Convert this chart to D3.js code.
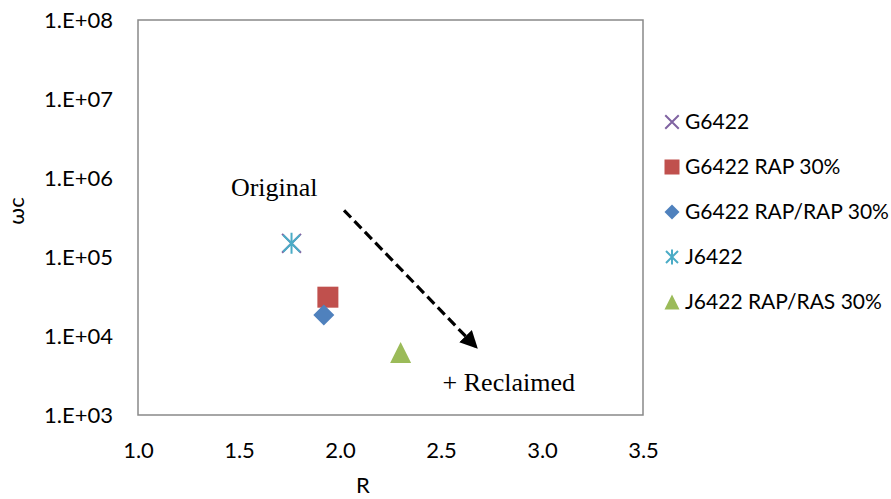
<!DOCTYPE html>
<html>
<head>
<meta charset="utf-8">
<script src="https://cdn.jsdelivr.net/npm/d3@7"></script>
<style>
  html, body { margin: 0; padding: 0; background: #fff; }
  svg { display: block; }
</style>
</head>
<body>
<svg id="chart" width="891" height="499"></svg>
<script>
// Series: one point per binder
const seriesNames = ["G6422", "G6422 RAP 30%", "G6422 RAP/RAP 30%", "J6422", "J6422 RAP/RAS 30%"];
const seriesR     = [1.76, 1.94, 1.92, 1.76, 2.30];
const seriesWc    = [1.49e5, 3.1e4, 1.85e4, 1.49e5, 6.2e3];
const seriesColors = ["#8064A2", "#C0504D", "#4F81BD", "#4BACC6", "#9BBB59"];
const seriesShapes = ["x", "square", "diamond", "star", "triangle"];

// Axis ticks
const xTicks = [1.0, 1.5, 2.0, 2.5, 3.0, 3.5];
const yTicks = [1e3, 1e4, 1e5, 1e6, 1e7, 1e8];

// Trend arrow and its labels (data coordinates)
const arrowFrom = [2.02, 3.9e5];
const arrowTo   = [2.67, 7.4e3];
const annotations = [
  { text: "Original",    r: 1.46,  wc: 5.97e5 },
  { text: "+ Reclaimed", r: 2.508, wc: 2.03e3 }
];

const svg = d3.select("#chart");
const plot = { left: 138, top: 20, right: 643, bottom: 415 };

const x = d3.scaleLinear().domain([1.0, 3.5]).range([plot.left, plot.right]);
const y = d3.scaleLog().domain([1e3, 1e8]).range([plot.bottom, plot.top]);

const tickFont = "Lato, 'Open Sans', sans-serif";
const tickSize = 22;

// Plot area frame
svg.append("rect")
  .attr("x", plot.left).attr("y", plot.top)
  .attr("width", plot.right - plot.left).attr("height", plot.bottom - plot.top)
  .attr("fill", "none").attr("stroke", "#898989").attr("stroke-width", 1.5);

// Y axis (log, Excel-style scientific labels)
const yAxis = svg.append("g")
  .attr("transform", `translate(${plot.left},0)`)
  .call(d3.axisLeft(y).tickValues(yTicks).tickSize(0).tickPadding(25)
    .tickFormat(d => "1.E+" + String(Math.round(Math.log10(d))).padStart(2, "0")));
yAxis.select(".domain").remove();
yAxis.selectAll("text")
  .attr("font-family", tickFont).attr("font-size", tickSize).attr("fill", "#000");

// X axis
const xAxis = svg.append("g")
  .attr("transform", `translate(0,${plot.bottom})`)
  .call(d3.axisBottom(x).tickValues(xTicks).tickSize(0).tickPadding(0)
    .tickFormat(d3.format(".1f")));
xAxis.select(".domain").remove();
xAxis.selectAll("text")
  .attr("y", 43).attr("dy", 0)
  .attr("font-family", tickFont).attr("font-size", tickSize).attr("fill", "#000");

// Axis titles
svg.append("text")
  .attr("x", 363).attr("y", 493)
  .attr("text-anchor", "middle")
  .attr("font-family", tickFont).attr("font-size", tickSize)
  .text("R");
svg.append("text")
  .attr("transform", "translate(24,211) rotate(-90)")
  .attr("text-anchor", "middle")
  .attr("font-family", tickFont).attr("font-size", tickSize)
  .text("ωc");

// Marker drawing
function drawMarker(g, shape, color, s) {
  const h = s / 2;
  if (shape === "square") {
    g.append("rect").attr("x", -h).attr("y", -h).attr("width", s).attr("height", s).attr("fill", color);
  } else if (shape === "diamond") {
    g.append("path").attr("d", `M0,${-h}L${h},0L0,${h}L${-h},0Z`).attr("fill", color);
  } else if (shape === "triangle") {
    g.append("path").attr("d", `M0,${-h}L${h},${h}L${-h},${h}Z`).attr("fill", color);
  } else if (shape === "x") {
    const k = h * 0.9;
    g.append("path").attr("d", `M${-k},${-k}L${k},${k}M${-k},${k}L${k},${-k}`)
      .attr("stroke", color).attr("stroke-width", 2).attr("fill", "none");
  } else if (shape === "star") {
    const k = h * 0.8;
    g.append("path").attr("d", `M${-k},${-k}L${k},${k}M${-k},${k}L${k},${-k}M0,${-h}L0,${h}`)
      .attr("stroke", color).attr("stroke-width", 2).attr("fill", "none");
  }
}

// Data points
seriesNames.forEach((name, i) => {
  const g = svg.append("g")
    .attr("transform", `translate(${x(seriesR[i])},${y(seriesWc[i])})`);
  drawMarker(g, seriesShapes[i], seriesColors[i], 21);
});

// Dashed trend arrow
svg.append("defs").append("marker")
  .attr("id", "arrowhead")
  .attr("viewBox", "0 0 10 10")
  .attr("refX", 8).attr("refY", 5)
  .attr("markerWidth", 5.5).attr("markerHeight", 5.5)
  .attr("markerUnits", "strokeWidth")
  .attr("orient", "auto")
  .append("path").attr("d", "M0,0L10,5L0,10Z").attr("fill", "#000");

svg.append("line")
  .attr("x1", x(arrowFrom[0])).attr("y1", y(arrowFrom[1]))
  .attr("x2", x(arrowTo[0])).attr("y2", y(arrowTo[1]))
  .attr("stroke", "#000").attr("stroke-width", 3.2)
  .attr("stroke-dasharray", "10,5")
  .attr("marker-end", "url(#arrowhead)");

// Annotations
annotations.forEach(a => {
  svg.append("text")
    .attr("x", x(a.r)).attr("y", y(a.wc))
    .attr("font-family", "'Liberation Serif', 'Times New Roman', serif")
    .attr("font-size", 26)
    .text(a.text);
});

// Legend
const legend = svg.append("g").attr("transform", "translate(672,122)");
seriesNames.forEach((name, i) => {
  const row = legend.append("g").attr("transform", `translate(0,${i * 45})`);
  drawMarker(row, seriesShapes[i], seriesColors[i], 15);
  row.append("text")
    .attr("x", 13).attr("y", 0).attr("dy", "0.35em")
    .attr("font-family", tickFont).attr("font-size", 21)
    .text(name);
});
</script>
</body>
</html>
